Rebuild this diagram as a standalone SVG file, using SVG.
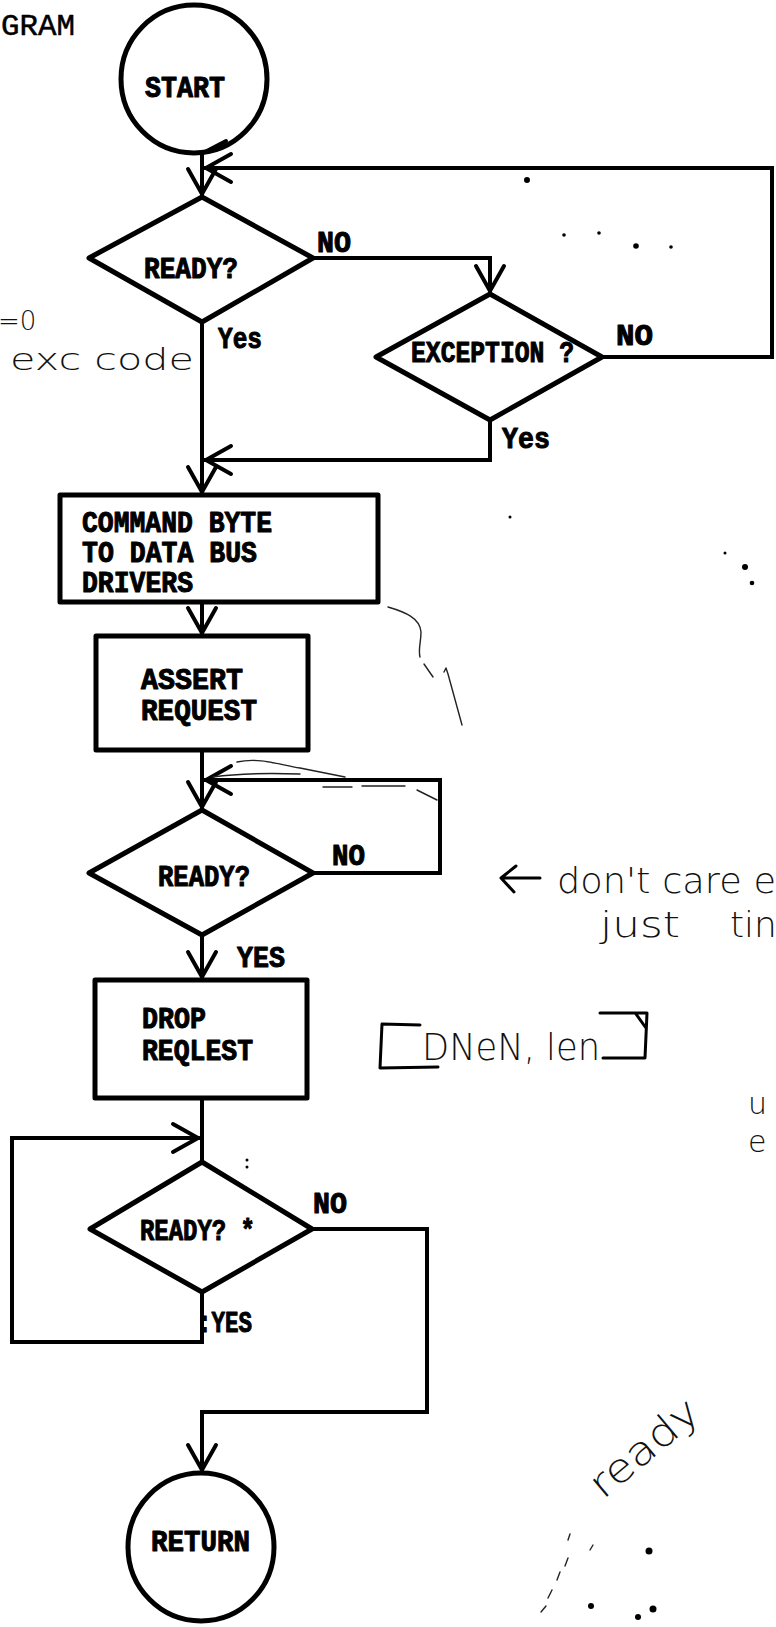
<svg xmlns="http://www.w3.org/2000/svg" width="776" height="1627" viewBox="0 0 776 1627">
<style>
.bg{fill:#fff}
.shape{fill:none;stroke:#000;stroke-width:5;stroke-linejoin:round}
.conn{fill:none;stroke:#000;stroke-width:4;stroke-linejoin:miter;stroke-linecap:square}
.t{font-family:"Liberation Mono","DejaVu Sans Mono",monospace;font-weight:bold;font-size:29px;fill:#000;stroke:#000;stroke-width:1;stroke-linejoin:round}
.hand{font-family:"DejaVu Sans","Liberation Sans",sans-serif;font-weight:200;fill:#111}
.pen{fill:none;stroke:#222;stroke-width:1.4;stroke-linecap:round;stroke-linejoin:round}
.penb{fill:none;stroke:#000;stroke-width:3;stroke-linecap:round;stroke-linejoin:round}
.dot{fill:#000}
</style>
<defs>
<marker id="arr" markerUnits="userSpaceOnUse" markerWidth="40" markerHeight="40" viewBox="-30 -20 40 40" refX="0" refY="0" orient="auto" overflow="visible">
<path d="M-25,-14 L0,0 L-25,14" fill="none" stroke="#000" stroke-width="4" stroke-linecap="round" stroke-linejoin="miter"/>
</marker>
</defs>
<rect class="bg" x="0" y="0" width="776" height="1627"/>

<text class="t" x="1" y="35" textLength="74" lengthAdjust="spacingAndGlyphs" style="font-weight:normal;font-size:30px;stroke-width:0.5">GRAM</text>

<g id="connectors">
<path class="conn" d="M202,153 L202,194" marker-end="url(#arr)"/>
<path class="conn" d="M602,357 L772,357 L772,168 L206,168" marker-end="url(#arr)"/>
<path class="conn" d="M313,258 L490,258 L490,291" marker-end="url(#arr)"/>
<path class="conn" d="M202,322 L202,492" marker-end="url(#arr)"/>
<path class="conn" d="M490,420 L490,460 L206,460" marker-end="url(#arr)"/>
<path class="conn" d="M202,602 L202,633" marker-end="url(#arr)"/>
<path class="conn" d="M202,750 L202,807" marker-end="url(#arr)"/>
<path class="conn" d="M313,873 L440,873 L440,780 L206,780" marker-end="url(#arr)"/>
<path class="conn" d="M202,935 L202,977" marker-end="url(#arr)"/>
<path class="conn" d="M202,1098 L202,1162"/>
<path class="conn" d="M202,1292 L202,1342 L12,1342 L12,1138 L198,1138" marker-end="url(#arr)"/>
<path class="conn" d="M312,1229 L427,1229 L427,1412 L202,1412 L202,1470" marker-end="url(#arr)"/>
<g id="edge-labels">
<text class="t" x="317" y="252" textLength="34" lengthAdjust="spacingAndGlyphs">NO</text>
<text class="t" x="218" y="348" textLength="44" lengthAdjust="spacingAndGlyphs">Yes</text>
<text class="t" x="616" y="345" textLength="37" lengthAdjust="spacingAndGlyphs">NO</text>
<text class="t" x="502" y="448" textLength="48" lengthAdjust="spacingAndGlyphs">Yes</text>
<text class="t" x="332" y="865" textLength="33" lengthAdjust="spacingAndGlyphs">NO</text>
<text class="t" x="237" y="967" textLength="48" lengthAdjust="spacingAndGlyphs">YES</text>
<text class="t" x="313" y="1213" textLength="34" lengthAdjust="spacingAndGlyphs">NO</text>
<text class="t" x="198" y="1332" textLength="54" lengthAdjust="spacingAndGlyphs">:YES</text>
</g>
</g>

<g id="n-start">
<ellipse class="shape" cx="194" cy="79" rx="73" ry="74"/>
<text class="t" x="145" y="97" textLength="80" lengthAdjust="spacingAndGlyphs">START</text>
</g>

<g id="n-ready1">
<polygon class="shape" points="202,197 313,258 202,322 89,258"/>
<text class="t" x="144" y="278" textLength="94" lengthAdjust="spacingAndGlyphs">READY?</text>
</g>

<g id="n-exception">
<polygon class="shape" points="490,294 602,357 490,420 376,357"/>
<text class="t" x="411" y="362" textLength="163" lengthAdjust="spacingAndGlyphs">EXCEPTION ?</text>
</g>

<g id="n-command">
<rect class="shape" x="60" y="495" width="318" height="107"/>
<text class="t" x="82" y="532" textLength="190" lengthAdjust="spacingAndGlyphs">COMMAND BYTE</text>
<text class="t" x="82" y="562" textLength="175" lengthAdjust="spacingAndGlyphs">TO DATA BUS</text>
<text class="t" x="82" y="592" textLength="111" lengthAdjust="spacingAndGlyphs">DRIVERS</text>
</g>

<g id="n-assert">
<rect class="shape" x="96" y="636" width="212" height="114"/>
<text class="t" x="141" y="689" textLength="102" lengthAdjust="spacingAndGlyphs">ASSERT</text>
<text class="t" x="141" y="720" textLength="116" lengthAdjust="spacingAndGlyphs">REQUEST</text>
</g>

<g id="n-ready2">
<polygon class="shape" points="202,810 313,873 202,935 89,873"/>
<text class="t" x="158" y="886" textLength="92" lengthAdjust="spacingAndGlyphs">READY?</text>
</g>

<g id="n-drop">
<rect class="shape" x="95" y="980" width="212" height="118"/>
<text class="t" x="142" y="1028" textLength="64" lengthAdjust="spacingAndGlyphs">DROP</text>
<text class="t" x="142" y="1060" textLength="111" lengthAdjust="spacingAndGlyphs">REQLEST</text>
</g>

<g id="n-ready3">
<polygon class="shape" points="202,1162 312,1229 202,1292 90,1229"/>
<text class="t" x="140" y="1240" textLength="115" lengthAdjust="spacingAndGlyphs">READY? *</text>
</g>

<g id="n-return">
<ellipse class="shape" cx="201" cy="1547" rx="73" ry="74"/>
<text class="t" x="151" y="1551" textLength="99" lengthAdjust="spacingAndGlyphs">RETURN</text>
</g>

<g id="annotations">
<text class="hand"><tspan x="-2" y="330" font-size="26">=0</tspan><tspan x="10" y="370" font-size="31" textLength="184" lengthAdjust="spacingAndGlyphs">exc code</tspan></text>
<path class="penb" d="M540,878 L502,878 M516,866 L501,878 L514,892"/>
<text class="hand" x="557" y="893" font-size="36" textLength="219" lengthAdjust="spacingAndGlyphs">don't care e</text>
<text class="hand" font-size="36"><tspan x="600" y="937" textLength="80" lengthAdjust="spacingAndGlyphs">just</tspan><tspan x="730" y="937">tin</tspan></text>
<path class="penb" d="M420,1025 L382,1024 L380,1068 L438,1067 M600,1013 L647,1013 L645,1058 L603,1058 M636,1014 L646,1028"/>
<text class="hand" x="422" y="1060" font-size="38" textLength="178" lengthAdjust="spacingAndGlyphs">DNeN, len</text>
<text class="hand" font-size="30"><tspan x="748" y="1114">u</tspan><tspan x="748" y="1152">e</tspan></text>
<text class="hand" font-size="40" transform="translate(603,1500) rotate(-40)" textLength="130" lengthAdjust="spacingAndGlyphs">ready</text>
<path class="pen" d="M388,607 C405,612 420,618 421,632 C421,642 418,650 420,657 M424,664 L433,677 M444,672 L446,668 L448,674 L462,725"/>
<path class="pen" d="M237,762 C260,757 280,765 300,768 C320,772 335,775 345,777 M213,777 C240,773 270,773 300,774 M323,787 L352,787 M362,786 L405,786 M417,790 L437,800"/>
<path class="pen" d="M541,1612 L546,1606 M548,1598 L552,1590 M557,1580 L560,1572 M565,1566 L568,1558 M568,1540 L570,1534 M590,1550 L593,1545"/>
<path class="penb" d="M203,153 L226,141" style="stroke-width:4"/>
<circle class="dot" cx="527" cy="180" r="3"/>
<circle class="dot" cx="564" cy="235" r="1.8"/>
<circle class="dot" cx="599" cy="233" r="1.8"/>
<circle class="dot" cx="636" cy="246" r="2.8"/>
<circle class="dot" cx="671" cy="247" r="1.8"/>
<circle class="dot" cx="510" cy="517" r="1.5"/>
<circle class="dot" cx="725" cy="553" r="1.5"/>
<circle class="dot" cx="745" cy="567" r="3"/>
<circle class="dot" cx="752" cy="583" r="2.3"/>
<circle class="dot" cx="247" cy="1160" r="1.5"/>
<circle class="dot" cx="247" cy="1167" r="1.5"/>
<circle class="dot" cx="649" cy="1551" r="3.5"/>
<circle class="dot" cx="591" cy="1606" r="3"/>
<circle class="dot" cx="638" cy="1617" r="3"/>
<circle class="dot" cx="653" cy="1609" r="3.5"/>
</g>
</svg>
